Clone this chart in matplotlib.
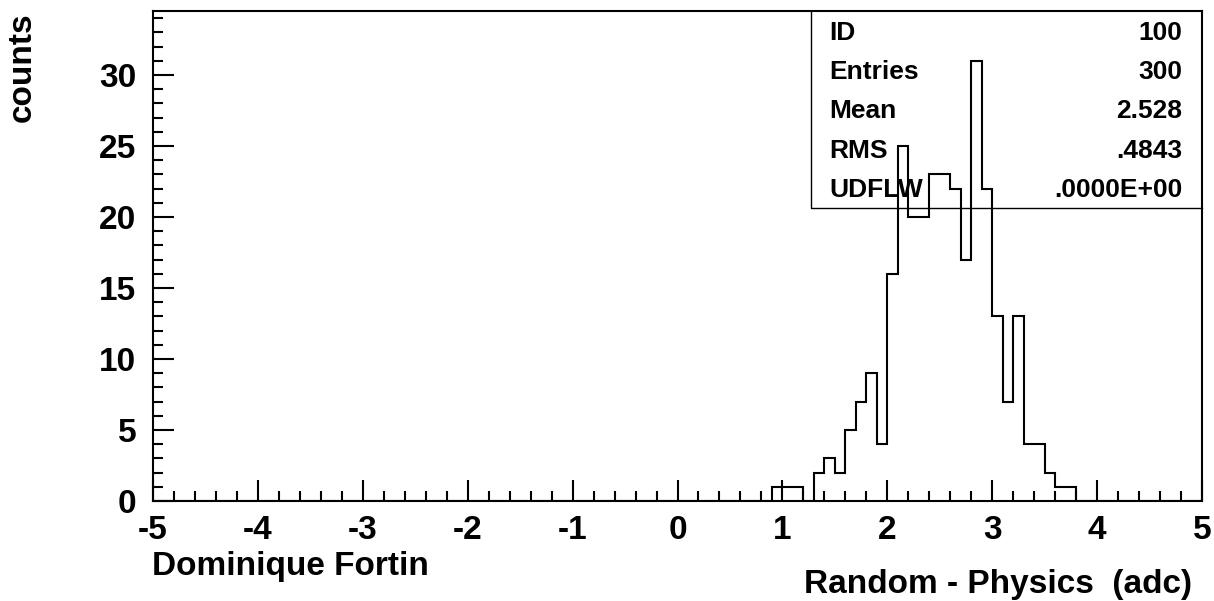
import numpy as np
import matplotlib
matplotlib.use("Agg")
import matplotlib.pyplot as plt
from matplotlib.ticker import MultipleLocator

plt.rcParams['font.family'] = ['Liberation Sans', 'DejaVu Sans']
plt.rcParams['font.weight'] = 'bold'
plt.rcParams['axes.unicode_minus'] = False

# histogram ID 100: 100 bins from -5 to 5, only non-empty bins listed
x_lo, x_hi, n_bins = -5.0, 5.0, 100
bin_left = [0.9, 1.0, 1.1, 1.3, 1.4, 1.5, 1.6, 1.7, 1.8, 1.9,
            2.0, 2.1, 2.2, 2.3, 2.4, 2.5, 2.6, 2.7, 2.8, 2.9,
            3.0, 3.1, 3.2, 3.3, 3.4, 3.5, 3.6, 3.7]
bin_counts = [1, 1, 1, 2, 3, 2, 5, 7, 9, 4,
              16, 25, 20, 20, 23, 23, 22, 17, 31, 22,
              13, 7, 13, 4, 4, 2, 1, 1]

stat_names = ['ID', 'Entries', 'Mean', 'RMS', 'UDFLW']
stat_values = ['100', '300', '2.528', '.4843', '.0000E+00']

edges = np.linspace(x_lo, x_hi, n_bins + 1)
counts = np.zeros(n_bins)
for xl, c in zip(bin_left, bin_counts):
    counts[int(round((xl - x_lo) / 0.1))] = c

fig = plt.figure(figsize=(12.14, 6.01), dpi=100)
ax = fig.add_axes([153 / 1214, 1 - 501 / 601, (1202 - 153) / 1214, (501 - 11) / 601])

ax.stairs(counts, edges, color='black', linewidth=1.5)

ax.set_xlim(x_lo, x_hi)
ax.set_ylim(0, 34.5)
ax.xaxis.set_major_locator(MultipleLocator(1))
ax.xaxis.set_minor_locator(MultipleLocator(0.2))
ax.yaxis.set_major_locator(MultipleLocator(5))
ax.yaxis.set_minor_locator(MultipleLocator(1))
ax.tick_params(which='both', direction='in', top=False, right=False, width=1.5, labelsize=24)
ax.tick_params(which='major', length=15)
ax.tick_params(which='minor', length=7)
ax.tick_params(axis='y', pad=12)
ax.tick_params(axis='x', pad=10)
for lab in ax.get_xticklabels() + ax.get_yticklabels():
    lab.set_fontweight('bold')
for sp in ax.spines.values():
    sp.set_linewidth(1.5)

# stats box
box_l, box_b = 0.627, 0.598
ax.plot([box_l, box_l, 1.0], [1.0, box_b, box_b], transform=ax.transAxes,
        color='black', linewidth=1, clip_on=False)
row_h = (1.0 - box_b) / len(stat_names)
for i, (nm, val) in enumerate(zip(stat_names, stat_values)):
    yy = 1.0 - row_h * (i + 0.55)
    ax.text(box_l + 0.018, yy, nm, transform=ax.transAxes, fontsize=19,
            fontweight='bold', va='center', ha='left')
    ax.text(0.981, yy, val, transform=ax.transAxes, fontsize=19,
            fontweight='bold', va='center', ha='right')

fig.text(22 / 1214, 1 - 67 / 601, 'counts', rotation=90, fontsize=24,
         fontweight='bold', ha='center', va='center')
fig.text(152 / 1214, 1 - 566 / 601, 'Dominique Fortin', fontsize=24,
         fontweight='bold', ha='left', va='center')
fig.text(1192 / 1214, 1 - 584 / 601, 'Random - Physics  (adc)', fontsize=24,
         fontweight='bold', ha='right', va='center')

fig.savefig('out.png', dpi=100)
